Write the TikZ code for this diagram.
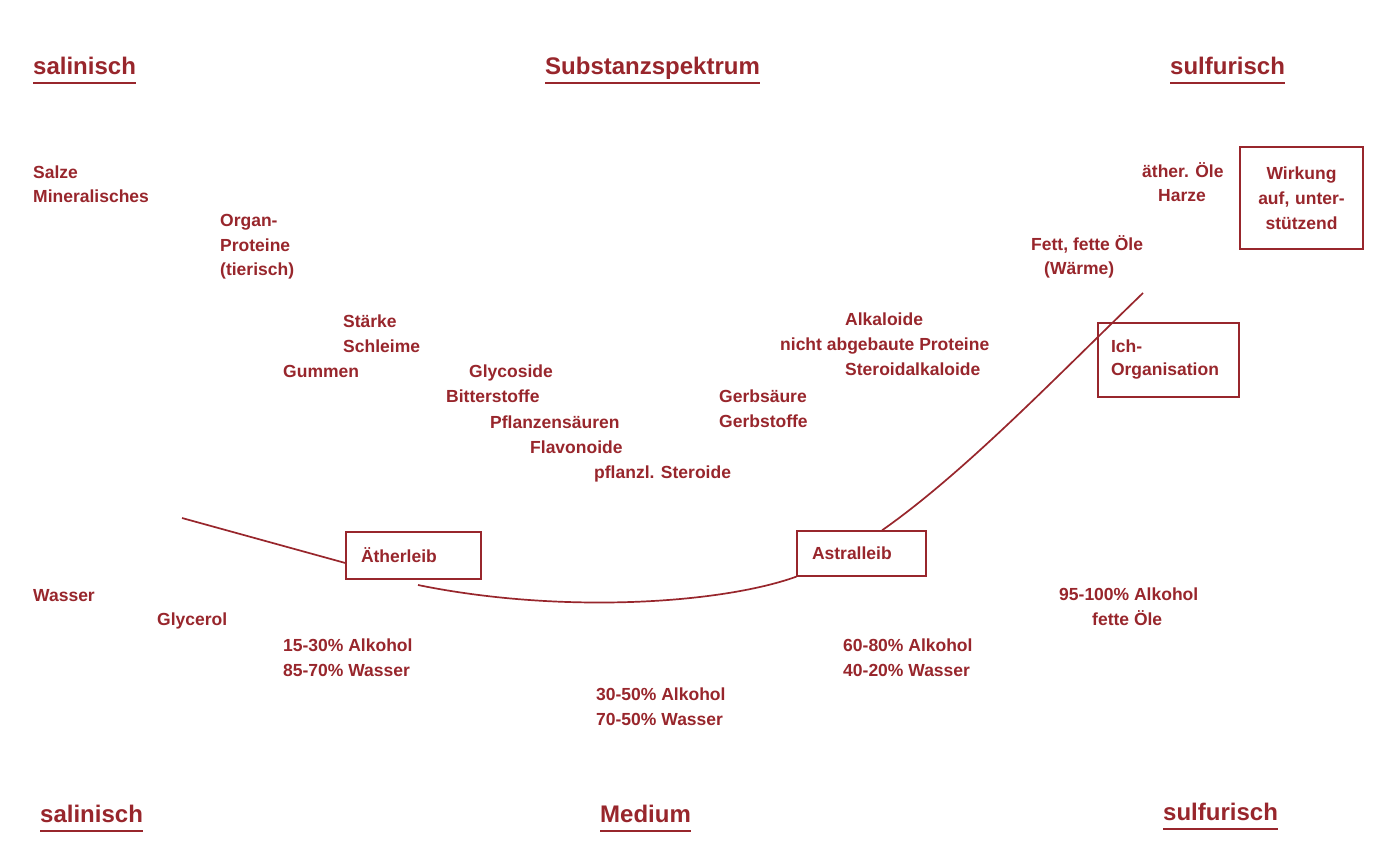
\documentclass[tikz,border=0pt]{standalone}
\usepackage{fontspec}
\setmainfont{Liberation Sans}
\definecolor{dred}{RGB}{152,38,44}
\begin{document}
\begin{tikzpicture}[x=1pt,y=-1pt,
  txt/.style={anchor=base west,inner sep=0pt,text=dred,font=\fontsize{17.5}{25}\selectfont\bfseries},
  hdr/.style={anchor=base west,inner sep=0pt,text=dred,font=\fontsize{24}{28}\selectfont\bfseries},
  uline/.style={draw=dred,line width=2pt},
  boxnode/.style={draw=dred,line width=1.3pt,inner sep=0pt,text=dred,font=\fontsize{17.5}{25}\selectfont\bfseries},
  conn/.style={draw=dred,line width=1.7pt}]
\useasboundingbox[fill=white] (0,0) rectangle (1396,855);

% headers
\node[hdr] (h1) at (33,74) {salinisch};
\node[hdr] (h2) at (545,74) {Substanzspektrum};
\node[hdr] (h3) at (1170,74) {sulfurisch};
\node[hdr] (h4) at (40,822) {salinisch};
\node[hdr] (h5) at (600,822) {Medium};
\node[hdr] (h6) at (1163,820) {sulfurisch};
\foreach \h in {h1,h2,h3,h4,h5,h6}{
  \draw[uline] ([yshift=-9pt]\h.base west) -- ([yshift=-9pt]\h.base east);}

% substances
\node[txt] (t1) at (33,178) {Salze};
\node[txt] (t2) at (33,202) {Mineralisches};
\node[txt] (t3) at (220,226) {Organ-};
\node[txt] (t4) at (220,251) {Proteine};
\node[txt] (t5) at (220,275) {(tierisch)};
\node[txt] (t6) at (343,327) {Stärke};
\node[txt] (t7) at (343,352) {Schleime};
\node[txt] (t8) at (283,377) {Gummen};
\node[txt] (t9) at (469,377) {Glycoside};
\node[txt] (t10) at (446,402) {Bitterstoffe};
\node[txt] (t11) at (490,428) {Pflanzensäuren};
\node[txt] (t12) at (530,453) {Flavonoide};
\node[txt] (t13) at (594,478) {pflanzl. Steroide};
\node[txt] (t14) at (719,402) {Gerbsäure};
\node[txt] (t15) at (719,427) {Gerbstoffe};
\node[txt] (t16) at (845,325) {Alkaloide};
\node[txt] (t17) at (780,350) {nicht abgebaute Proteine};
\node[txt] (t18) at (845,375) {Steroidalkaloide};
\node[txt] (t19) at (1031,250) {Fett, fette Öle};
\node[txt] (t20) at (1044,274) {(Wärme)};
\node[txt] (t21) at (1142,177) {äther. Öle};
\node[txt] (t22) at (1158,201) {Harze};

% media
\node[txt] (m1) at (33,601) {Wasser};
\node[txt] (m2) at (157,625) {Glycerol};
\node[txt] (m3) at (283,651) {15-30\% Alkohol};
\node[txt] (m4) at (283,676) {85-70\% Wasser};
\node[txt] (m5) at (596,700) {30-50\% Alkohol};
\node[txt] (m6) at (596,725) {70-50\% Wasser};
\node[txt] (m7) at (843,651) {60-80\% Alkohol};
\node[txt] (m8) at (843,676) {40-20\% Wasser};
\node[txt] (m9) at (1059,600) {95-100\% Alkohol};
\node[txt] (m10) at (1092,625) {fette Öle};

% boxes
\node[boxnode,minimum width=135pt,minimum height=47pt,text width=105pt,align=left] (aether) at (413.5,555.5) {Ätherleib};
\node[boxnode,minimum width=129pt,minimum height=45pt,text width=99pt,align=left] (astral) at (861.5,553.5) {Astralleib};
\node[boxnode,minimum width=141pt,minimum height=74pt,text width=115pt,align=left] (ich) at (1168.5,360) {Ich-\\[-2pt]Organisation};
\node[boxnode,minimum width=123pt,minimum height=102pt,text width=115pt,align=center] (wirk) at (1301.5,198) {Wirkung\\auf, unter-\\stützend};

% curve
\coordinate (c0) at (182,518);
\coordinate (c1) at (418,585);
\coordinate (c2) at (1143,293);
\draw[conn] (c0) -- ([yshift=-7.5pt]aether.west);
\draw[conn] (c1) .. controls (560,614) and (720,604) .. (astral.south west);
\draw[conn] ([xshift=20.5pt]astral.north) .. controls (965,472) and (1055,378) .. (c2);
\end{tikzpicture}
\end{document}
